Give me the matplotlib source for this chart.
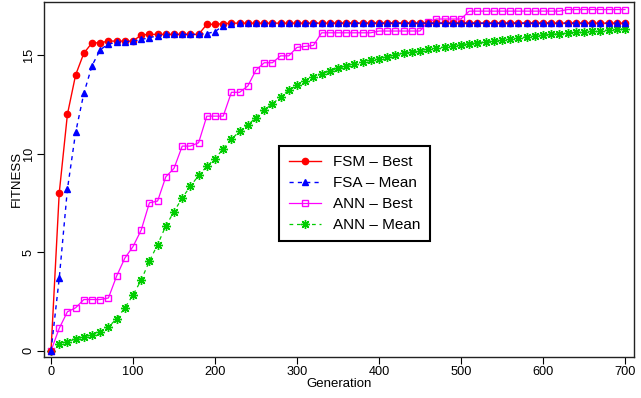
import matplotlib
matplotlib.use("Agg")
import matplotlib.pyplot as plt

plt.rcParams['font.family'] = ['Liberation Sans', 'DejaVu Sans']

# generations sampled every 10
gens = list(range(0, 701, 10))

fsm_best = [0, 8.0, 12.0, 14.0, 15.1, 15.63, 15.63, 15.72, 15.72, 15.72,
            15.72, 16.03, 16.06, 16.06, 16.06, 16.06, 16.06, 16.06, 16.06, 16.57,
            16.57, 16.6] + [16.63] * 49

fsa_mean = [0, 3.67, 8.2, 11.08, 13.06, 14.47, 15.28, 15.57, 15.65, 15.69,
            15.72, 15.8, 15.89, 15.99, 16.06, 16.06, 16.06, 16.06, 16.06, 16.1,
            16.2, 16.5, 16.6] + [16.63] * 48

ann_best = [0, 1.14, 1.98, 2.18, 2.6, 2.6, 2.6, 2.68, 3.79, 4.7,
            5.29, 6.13, 7.51, 7.6, 8.83, 9.26, 10.39, 10.39, 10.56, 11.91,
            11.91, 11.91, 13.12, 13.12, 13.44, 14.25, 14.62, 14.62, 14.97, 14.97,
            15.4, 15.45, 15.5] + [16.14] * 7 + [16.23] * 6 + [16.7] + \
           [16.84] * 4 + [17.24] * 12 + [17.32] * 8

ann_mean = [0, 0.34, 0.47, 0.6, 0.71, 0.82, 0.93, 1.21, 1.62, 2.18,
            2.83, 3.59, 4.55, 5.39, 6.34, 7.06, 7.76, 8.35, 8.9, 9.36,
            9.75, 10.25, 10.73, 11.15, 11.46, 11.84, 12.22, 12.53, 12.89, 13.22,
            13.47, 13.7, 13.9, 14.05, 14.21, 14.33, 14.47, 14.55, 14.65, 14.74,
            14.82, 14.92, 15.03, 15.1, 15.16, 15.23, 15.3, 15.37, 15.42, 15.48,
            15.53, 15.58, 15.63, 15.69, 15.74, 15.79, 15.84, 15.89, 15.94, 15.97,
            16.03, 16.06, 16.09, 16.13, 16.16, 16.19, 16.23, 16.24, 16.28, 16.31,
            16.33]

x_ticks = [0, 100, 200, 300, 400, 500, 600, 700]
y_ticks = [0, 5, 10, 15]

fig = plt.figure(figsize=(6.41, 3.98), dpi=100)
ax = fig.add_axes([0.0691, 0.1038, 0.92, 0.892])

# draw later series first so the red/blue sit on top
ax.plot(gens, ann_mean, color='#00cd00', ls=(0, (3, 3)), lw=0.9,
        marker=(8, 2, 0), ms=6.5, mew=1.0, label='ANN – Mean')
ax.plot(gens, ann_best, color='#ff00ff', ls='-', lw=0.9,
        marker='s', ms=4.0, mfc='none', mew=1.0, label='ANN – Best')
ax.plot(gens, fsm_best, color='#ff0000', ls='-', lw=1.0,
        marker='o', ms=4.5, label='FSM – Best')
ax.plot(gens, fsa_mean, color='#0000ff', ls=(0, (3, 3)), lw=1.0,
        marker='^', ms=4.5, label='FSA – Mean')

ax.set_xlim(-8.2, 711)
ax.set_ylim(-0.3, 17.72)
ax.set_xticks(x_ticks)
ax.set_yticks(y_ticks)
ax.tick_params(direction='out', length=5, width=0.8, labelsize=9.2, pad=2)
for lab in ax.get_yticklabels():
    lab.set_rotation(90)
    lab.set_va('center')
for sp in ax.spines.values():
    sp.set_linewidth(1.0)
    sp.set_color('#222222')

ax.set_xlabel('Generation', fontsize=9.5, labelpad=0)
ax.set_ylabel('FITNESS', fontsize=9.5)
ax.yaxis.set_label_coords(-0.036, 0.5)

h, l = ax.get_legend_handles_labels()
order = [2, 3, 1, 0]
leg = ax.legend([h[i] for i in order], [l[i] for i in order],
                loc='upper left', bbox_to_anchor=(0.3985, 0.594),
                fontsize=11, frameon=True, fancybox=False, framealpha=1,
                edgecolor='black', handlelength=2.1, handletextpad=0.8,
                labelspacing=0.45, borderpad=0.62, borderaxespad=0)
leg.get_frame().set_linewidth(1.5)

fig.savefig('out.png', dpi=100)
